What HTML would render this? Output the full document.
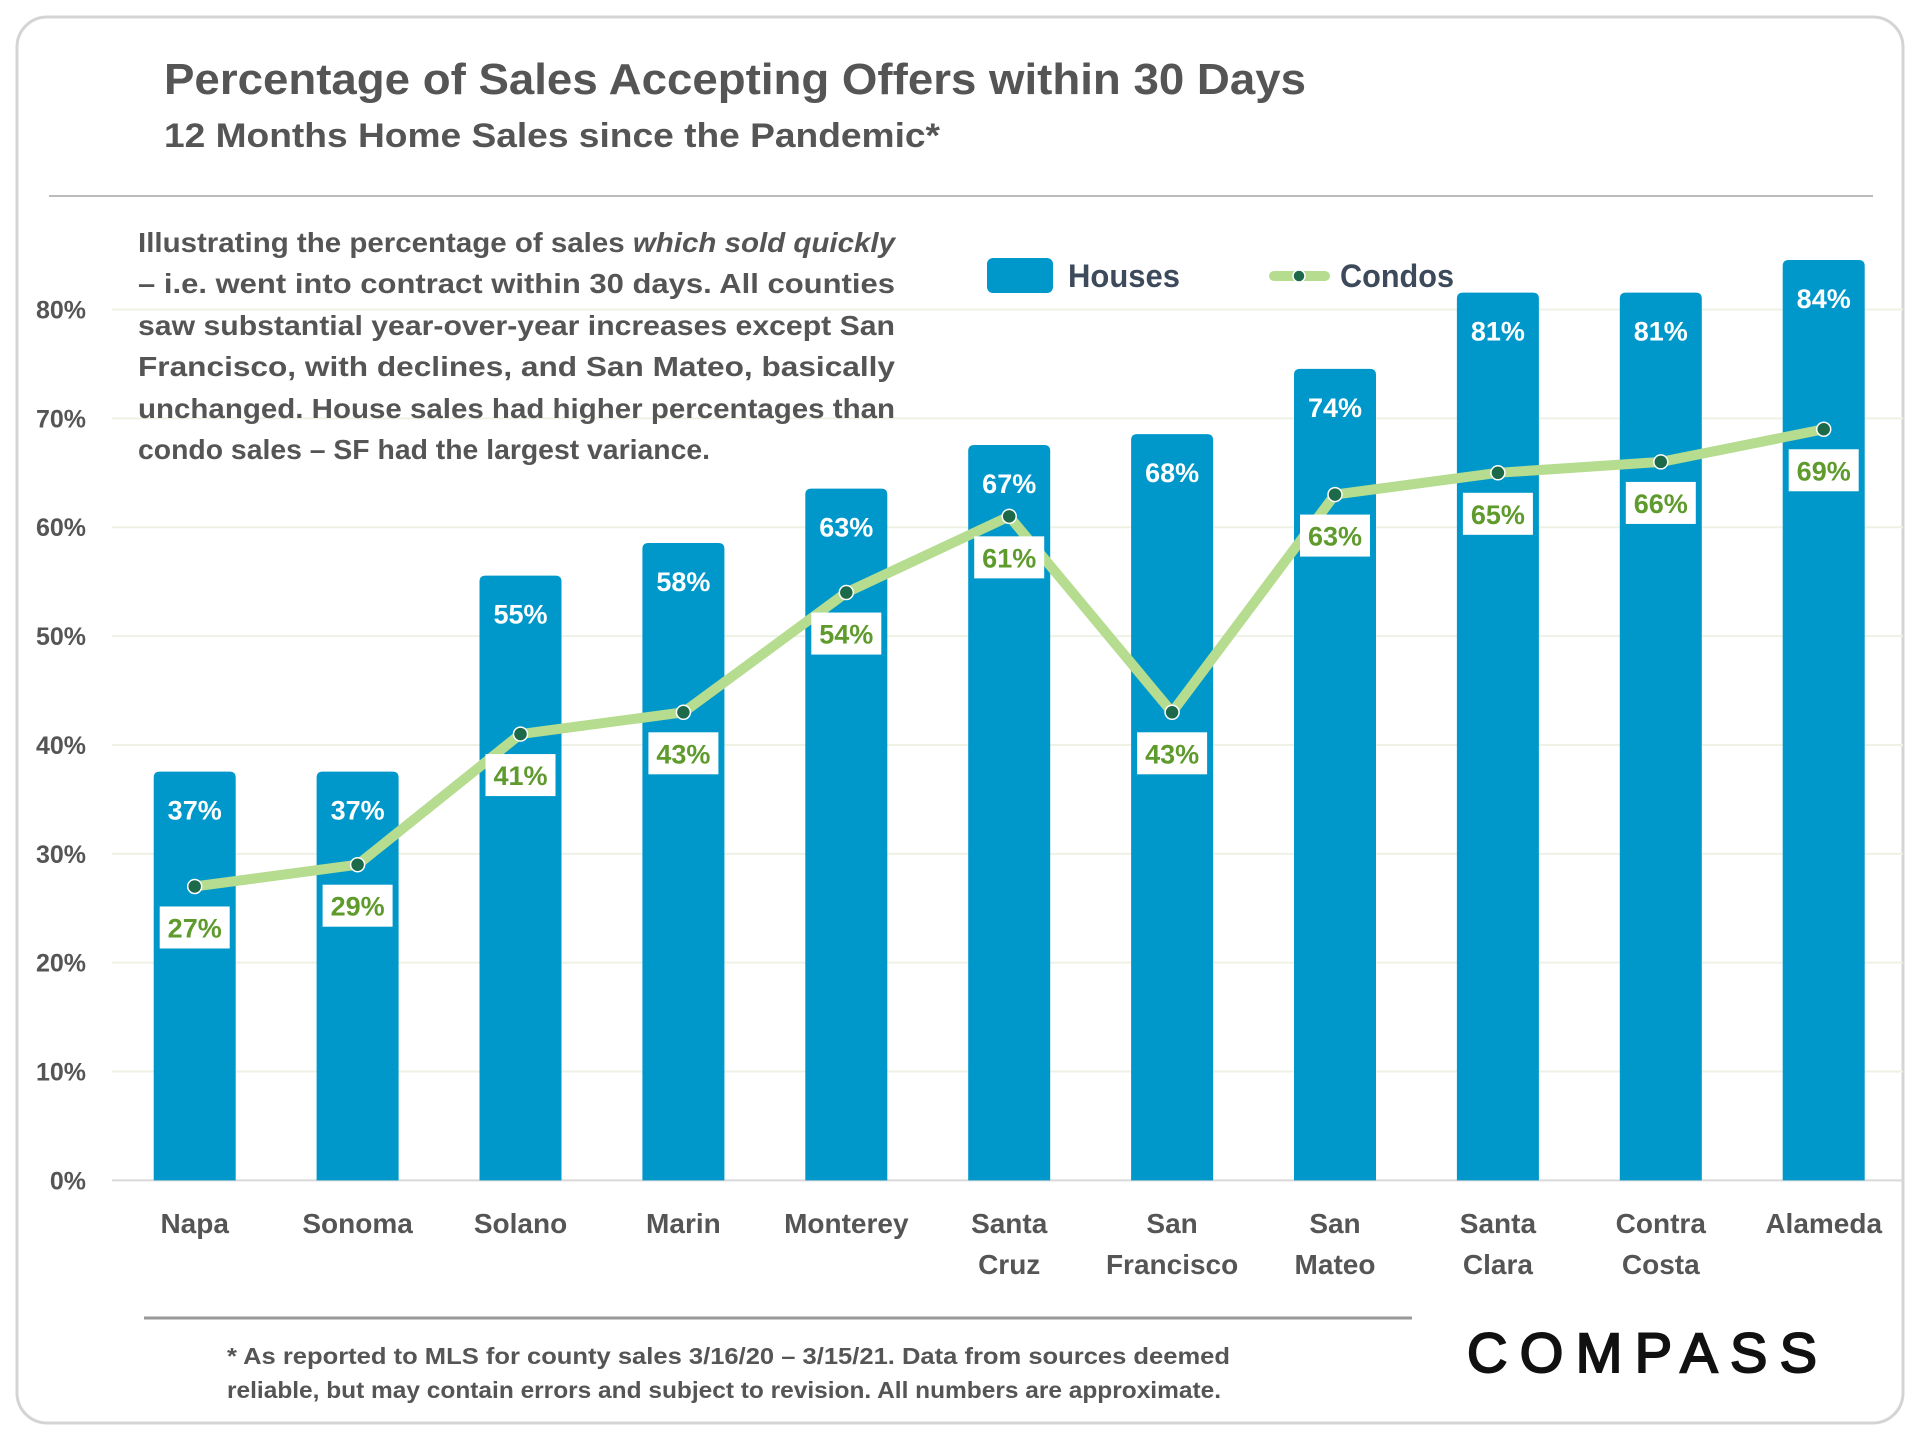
<!DOCTYPE html>
<html><head><meta charset="utf-8"><style>
html,body{margin:0;padding:0;background:#fff;}
svg{display:block;font-family:"Liberation Sans",sans-serif;}
</style></head><body>
<svg id="chart" width="1920" height="1440" viewBox="0 0 1920 1440">
<rect x="17" y="17" width="1886" height="1406" rx="30" fill="#fff" stroke="#d4d4d4" stroke-width="3"/>
<text x="164" y="94" font-size="44" font-weight="bold" fill="#555" textLength="1142" lengthAdjust="spacingAndGlyphs">Percentage of Sales Accepting Offers within 30 Days</text>
<text x="164" y="147" font-size="34" font-weight="bold" fill="#555" textLength="776" lengthAdjust="spacingAndGlyphs">12 Months Home Sales since the Pandemic*</text>
<line x1="49" y1="196" x2="1873" y2="196" stroke="#bbb" stroke-width="2"/>
<g id="grid"></g>
<g id="yaxis"></g>
<g id="bars"></g>
<g id="line"></g>
<g id="xaxis"></g>
<g font-size="28" font-weight="bold" fill="#555">
<text x="138" y="252" textLength="757" lengthAdjust="spacingAndGlyphs">Illustrating the percentage of sales <tspan font-style="italic">which sold quickly</tspan></text>
<text x="138" y="293" textLength="757" lengthAdjust="spacingAndGlyphs">– i.e. went into contract within 30 days. All counties</text>
<text x="138" y="335" textLength="757" lengthAdjust="spacingAndGlyphs">saw substantial year-over-year increases except San</text>
<text x="138" y="376" textLength="757" lengthAdjust="spacingAndGlyphs">Francisco, with declines, and San Mateo, basically</text>
<text x="138" y="418" textLength="757" lengthAdjust="spacingAndGlyphs">unchanged. House sales had higher percentages than</text>
<text x="138" y="459" textLength="572" lengthAdjust="spacingAndGlyphs">condo sales – SF had the largest variance.</text>
</g>
<g>
<g>
<rect x="987" y="258" width="66" height="35" rx="6" fill="#0098cb"/>
<text x="1068" y="287" font-size="32" font-weight="bold" fill="#3d4a5c" textLength="112" lengthAdjust="spacingAndGlyphs">Houses</text>
</g>
<g>
<line x1="1274" y1="276" x2="1325" y2="276" stroke="#b5dc8f" stroke-width="10" stroke-linecap="round"/>
<circle cx="1299" cy="276" r="6" fill="#1d6a4a" stroke="#fff" stroke-width="1.5"/>
<text x="1340" y="287" font-size="32" font-weight="bold" fill="#3d4a5c" textLength="114" lengthAdjust="spacingAndGlyphs">Condos</text>
</g>
</g>
<line x1="144" y1="1318" x2="1412" y2="1318" stroke="#999" stroke-width="3"/>
<g font-size="23" font-weight="bold" fill="#555">
<text x="227" y="1364" textLength="1003" lengthAdjust="spacingAndGlyphs">* As reported to MLS for county sales 3/16/20 – 3/15/21. Data from sources deemed</text>
<text x="227" y="1398" textLength="994" lengthAdjust="spacingAndGlyphs">reliable, but may contain errors and subject to revision. All numbers are approximate.</text>
</g>
<text x="1467" y="1372" font-size="56" fill="#111" stroke="#111" stroke-width="2" textLength="350" lengthAdjust="spacing">COMPASS</text>
</svg>
<script>
const categories=[["Napa"],["Sonoma"],["Solano"],["Marin"],["Monterey"],["Santa","Cruz"],["San","Francisco"],["San","Mateo"],["Santa","Clara"],["Contra","Costa"],["Alameda"]];
const houses=[37,37,55,58,63,67,68,74,81,81,84];
const condos=[27,29,41,43,54,61,43,63,65,66,69];
const yTicks=[0,10,20,30,40,50,60,70,80];
const NS="http://www.w3.org/2000/svg";
const y0=1180.4, yPer=10.886;
const yS=v=>y0-v*yPer;
const xS=i=>194.7+i*162.9;
const bw=82;
function el(t,a,p){const e=document.createElementNS(NS,t);for(const k in a)e.setAttribute(k,a[k]);p.appendChild(e);return e;}
const grid=document.getElementById('grid'),ya=document.getElementById('yaxis');
yTicks.forEach(t=>{
  const g=el('line',{x1:112,x2:1903,y1:yS(t),y2:yS(t),stroke:t===0?'#d9d9d9':'#eef2e4','stroke-width':2},grid);
  
  
  const l=el('text',{x:86,y:yS(t)+9,'text-anchor':'end','font-size':25,'font-weight':'bold',fill:'#555'},ya);
  l.textContent=t+'%';
  
  
});
const bars=document.getElementById('bars');
houses.forEach((v,i)=>{
  const x=xS(i)-bw/2,y=yS(v)-6;
  const b=el('path',{d:`M${x},${y0}V${y+6}Q${x},${y} ${x+6},${y}H${x+bw-6}Q${x+bw},${y} ${x+bw},${y+6}V${y0}Z`,fill:'#0098cb'},bars);
  
  
  const t=el('text',{x:xS(i),y:y+48,'text-anchor':'middle','font-size':27,'font-weight':'bold',fill:'#fff'},bars);
  t.textContent=v+'%';
  
  
});
const lg=document.getElementById('line');
const pl=el('polyline',{points:condos.map((v,i)=>xS(i)+','+yS(v)).join(' '),fill:'none',stroke:'#b5dc8f','stroke-width':10,'stroke-linejoin':'round'},lg);


condos.forEach((v,i)=>{
  const c=el('circle',{cx:xS(i),cy:yS(v),r:7,fill:'#1d6a4a',stroke:'#fff','stroke-width':1.5},lg);
  
  
  const r=el('rect',{x:xS(i)-35,y:yS(v)+20,width:70,height:42,fill:'#fff'},lg);
  
  
  const t=el('text',{x:xS(i),y:yS(v)+51,'text-anchor':'middle','font-size':27,'font-weight':'bold',fill:'#5e9a2c'},lg);
  t.textContent=v+'%';
  
  
});
const xa=document.getElementById('xaxis');
categories.forEach((c,i)=>{
  c.forEach((ln,j)=>{
    const t=el('text',{x:xS(i),y:1233+j*41,'text-anchor':'middle','font-size':28,'font-weight':'bold',fill:'#555'},xa);
    t.textContent=ln;
    
    
  });
});
</script>
</body></html>
